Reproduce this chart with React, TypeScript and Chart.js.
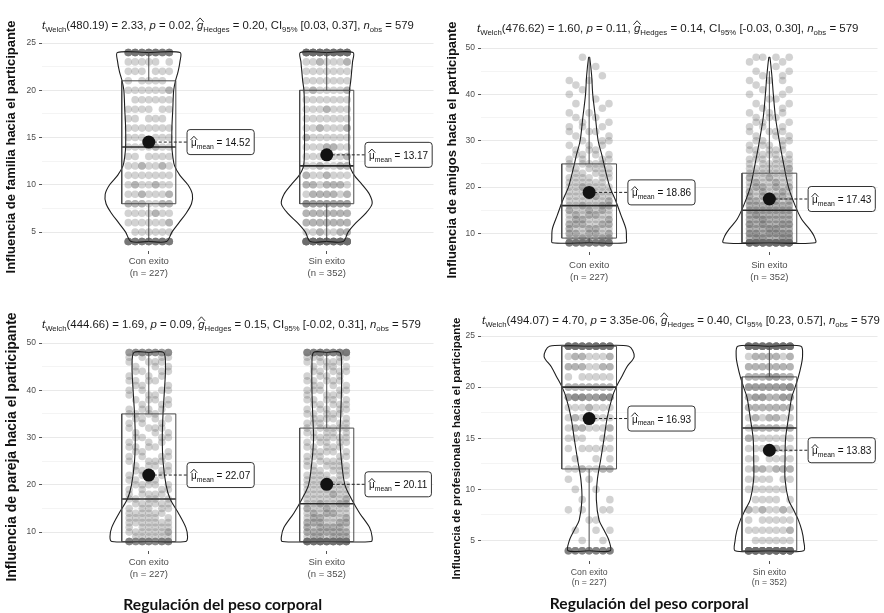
import React, { useEffect, useRef } from 'react';
import { Chart, registerables } from 'chart.js';

Chart.register(...registerables);

const FONT = '"Liberation Sans", Arial, Helvetica, sans-serif';
Chart.defaults.font.family = FONT;

const CATEGORIES = ['Con exito', 'Sin exito'];
const GROUP_N = [227, 352];
const X_TITLE = 'Regulación del peso corporal';

// ---------- Panel 1: familia ----------
const famYTitle = 'Influencia de familia hacia el participante';
const famYRange = [3, 25];
const famTicks = [5, 10, 15, 20, 25];
const famStats = ['480.19', '2.33', '0.02', '0.20', '0.03', '0.37', '579'];
const famMeans = [14.52, 13.17];
const famBoxCon = [4, 8, 14, 21, 24];
const famBoxSin = [4, 8, 12, 20, 24];
const famLevels = [4, 5, 6, 7, 8, 9, 10, 11, 12, 13, 14, 15, 16, 17, 18, 19, 20, 21, 22, 23, 24];
const famCountsCon = [45, 6, 8, 8, 12, 9, 9, 7, 9, 6, 8, 6, 7, 5, 6, 6, 8, 5, 6, 6, 45];
const famCountsSin = [80, 10, 14, 14, 22, 12, 12, 9, 10, 8, 9, 8, 9, 7, 8, 7, 9, 7, 7, 9, 71];
const famViolinConY = [4, 5, 6, 7, 8, 9, 10, 11, 12, 13, 14, 16, 18, 20, 21, 22, 23, 24];
const famViolinConW = [0.1, 0.13, 0.17, 0.21, 0.24, 0.245, 0.22, 0.175, 0.145, 0.135, 0.13, 0.13, 0.135, 0.14, 0.15, 0.165, 0.175, 0.176];
const famViolinSinY = [4, 5, 6, 7, 8, 9, 10, 11, 12, 14, 16, 18, 20, 21, 22, 23, 24];
const famViolinSinW = [0.093, 0.12, 0.165, 0.22, 0.255, 0.24, 0.2, 0.155, 0.13, 0.125, 0.125, 0.125, 0.128, 0.135, 0.14, 0.145, 0.148];

// ---------- Panel 2: amigos ----------
const amiYTitle = 'Influencia de amigos hacia el participante';
const amiYRange = [6, 50];
const amiTicks = [10, 20, 30, 40, 50];
const amiStats = ['476.62', '1.60', '0.11', '0.14', '-0.03', '0.30', '579'];
const amiMeans = [18.86, 17.43];
const amiBoxCon = [8, 9, 16, 25, 48];
const amiBoxSin = [8, 8, 15, 23, 45];
const amiLevels = [8, 9, 10, 11, 12, 13, 14, 15, 16, 17, 18, 19, 20, 21, 22, 23, 24, 25, 26, 27, 28, 29, 30, 31, 32, 33, 34, 35, 36, 37, 38, 39, 40, 41, 42, 43, 44, 45, 46, 47, 48];
const amiCountsCon = [41, 10, 12, 10, 12, 10, 10, 10, 10, 8, 8, 7, 8, 6, 6, 5, 6, 5, 4, 4, 3, 3, 3, 2, 3, 3, 2, 2, 2, 1, 2, 1, 1, 1, 1, 2, 1, 0, 1, 0, 1];
const amiCountsSin = [70, 18, 20, 16, 18, 15, 15, 14, 14, 12, 12, 10, 11, 9, 9, 7, 8, 6, 6, 5, 5, 4, 4, 3, 4, 3, 3, 3, 3, 2, 2, 2, 2, 2, 1, 3, 2, 2, 1, 2, 4];
const amiViolinConY = [8, 9, 11, 14, 17, 20, 24, 27, 30, 35, 40, 44, 48];
const amiViolinConW = [0.204, 0.207, 0.204, 0.176, 0.148, 0.115, 0.088, 0.07, 0.05, 0.035, 0.02, 0.014, 0.003];
const amiViolinSinY = [8, 9.5, 11, 13, 16, 20, 25, 30, 35, 40, 44, 48];
const amiViolinSinW = [0.255, 0.247, 0.222, 0.18, 0.143, 0.106, 0.079, 0.055, 0.034, 0.022, 0.014, 0.003];

// ---------- Panel 3: pareja ----------
const parYTitle = 'Influencia de pareja hacia el participante';
const parYRange = [6, 50];
const parTicks = [10, 20, 30, 40, 50];
const parStats = ['444.66', '1.69', '0.09', '0.15', '-0.02', '0.31', '579'];
const parMeans = [22.07, 20.11];
const parBoxCon = [8, 8, 17, 35, 48];
const parBoxSin = [8, 8, 16, 32, 48];
const parLevels = amiLevels;
const parCountsCon = [33, 6, 8, 6, 7, 6, 6, 5, 6, 5, 5, 4, 5, 4, 4, 4, 4, 4, 4, 3, 4, 3, 4, 3, 4, 3, 4, 4, 4, 3, 4, 3, 4, 3, 4, 3, 4, 3, 4, 4, 26];
const parCountsSin = [60, 12, 14, 12, 12, 10, 10, 9, 10, 8, 8, 7, 7, 6, 6, 5, 6, 5, 5, 5, 5, 5, 6, 5, 6, 5, 5, 5, 5, 5, 5, 4, 5, 4, 5, 4, 5, 4, 5, 5, 37];
const parViolinConY = [8, 9, 11, 14, 17, 20, 25, 30, 35, 40, 45, 48];
const parViolinConW = [0.208, 0.218, 0.208, 0.167, 0.12, 0.097, 0.08, 0.076, 0.08, 0.088, 0.094, 0.083];
const parViolinSinY = [8, 9, 11, 14, 17, 20, 25, 30, 35, 40, 45, 48];
const parViolinSinW = [0.25, 0.255, 0.24, 0.185, 0.139, 0.102, 0.083, 0.074, 0.079, 0.083, 0.083, 0.074];

// ---------- Panel 4: profesionales ----------
const proYTitle = 'Influencia de profesionales hacia el participante';
const proYRange = [3, 25];
const proTicks = [5, 10, 15, 20, 25];
const proStats = ['494.07', '4.70', '3.35e-06', '0.40', '0.23', '0.57', '579'];
const proMeans = [16.93, 13.83];
const proBoxCon = [4, 12, 20, 24, 24];
const proBoxSin = [4, 4, 16, 21, 24];
const proLevels = famLevels;
const proCountsCon = [35, 2, 3, 2, 4, 2, 2, 2, 10, 3, 6, 5, 10, 8, 8, 25, 14, 6, 12, 10, 58];
const proCountsSin = [85, 6, 8, 6, 10, 5, 6, 6, 12, 6, 8, 8, 12, 10, 14, 18, 22, 16, 14, 12, 68];
const proViolinConY = [4, 5, 6, 7, 9, 11, 13, 15, 17, 19, 20, 21, 22, 23, 24];
const proViolinConW = [0.117, 0.11, 0.083, 0.055, 0.04, 0.046, 0.065, 0.083, 0.1, 0.128, 0.15, 0.18, 0.21, 0.25, 0.22];
const proViolinSinY = [4, 5, 6, 7, 8, 9, 11, 13, 15, 17, 19, 20, 21, 22, 23, 24];
const proViolinSinW = [0.19, 0.19, 0.18, 0.161, 0.134, 0.106, 0.087, 0.087, 0.09, 0.106, 0.124, 0.143, 0.161, 0.175, 0.184, 0.175];

const LABEL_DX = 0.215;
const BOX_HALF = 0.152;
const SLOT_ORDER = [3, 0, 5, 2, 6, 1, 4];

type Seg = { t: string; it?: boolean; sub?: boolean; hat?: boolean };

function statSegs(s: string[]): Seg[] {
  const [df, t, p, g, lo, hi, n] = s;
  return [
    { t: 't', it: true }, { t: 'Welch', sub: true },
    { t: `(${df}) = ${t}, ` }, { t: 'p', it: true }, { t: ` = ${p}, ` },
    { t: 'g', it: true, hat: true }, { t: 'Hedges', sub: true },
    { t: ` = ${g}, CI` }, { t: '95%', sub: true },
    { t: ` [${lo}, ${hi}], ` }, { t: 'n', it: true }, { t: 'obs', sub: true },
    { t: ` = ${n}` },
  ];
}

function drawSegs(ctx: CanvasRenderingContext2D, x: number, y: number, segs: Seg[], size: number, color: string, draw = true) {
  ctx.save();
  ctx.fillStyle = color;
  ctx.strokeStyle = color;
  ctx.textBaseline = 'alphabetic';
  ctx.textAlign = 'left';
  let cx = x;
  for (const s of segs) {
    const fs = s.sub ? size * 0.68 : size;
    ctx.font = `${s.it ? 'italic ' : ''}${fs}px ${FONT}`;
    const yy = s.sub ? y + size * 0.28 : y;
    const w = ctx.measureText(s.t).width;
    if (draw) {
      ctx.fillText(s.t, cx, yy);
      if (s.hat) {
        ctx.beginPath();
        ctx.lineWidth = 0.9;
        ctx.moveTo(cx - 0.5, y - size * 0.62);
        ctx.lineTo(cx + w / 2, y - size * 0.98);
        ctx.lineTo(cx + w + 0.5, y - size * 0.62);
        ctx.stroke();
      }
    }
    cx += w;
  }
  ctx.restore();
  return cx - x;
}

function drawMeanLabel(ctx: CanvasRenderingContext2D, x: number, y: number, val: number) {
  const size = 10;
  const segs: Seg[] = [{ t: 'μ', hat: true }, { t: 'mean', sub: true }, { t: ` = ${val.toFixed(2)}` }];
  const tw = drawSegs(ctx, 0, 0, segs, size, '#111', false);
  const pad = 4, h = 25, r = 3;
  const w = tw + pad * 2;
  const top = y - h / 2;
  ctx.save();
  ctx.beginPath();
  ctx.moveTo(x + r, top);
  ctx.lineTo(x + w - r, top);
  ctx.arcTo(x + w, top, x + w, top + r, r);
  ctx.lineTo(x + w, top + h - r);
  ctx.arcTo(x + w, top + h, x + w - r, top + h, r);
  ctx.lineTo(x + r, top + h);
  ctx.arcTo(x, top + h, x, top + h - r, r);
  ctx.lineTo(x, top + r);
  ctx.arcTo(x, top, x + r, top, r);
  ctx.closePath();
  ctx.fillStyle = '#ffffff';
  ctx.fill();
  ctx.strokeStyle = '#333333';
  ctx.lineWidth = 1;
  ctx.stroke();
  ctx.restore();
  drawSegs(ctx, x + pad, y + size * 0.4, segs, size, '#111');
}

// Deterministic horizontal placement of the points of each value level
function jitter(levels: number[], counts: number[], center: number, spread: number) {
  const pts: { x: number; y: number }[] = [];
  const S = SLOT_ORDER.length;
  levels.forEach((lv, i) => {
    const m = counts[i] || 0;
    for (let k = 0; k < m; k++) {
      const slot = SLOT_ORDER[(k + i * 2) % S];
      pts.push({ x: center - spread + (2 * spread * slot) / (S - 1), y: lv });
    }
  });
  return pts;
}

function violinPath(c: number, ys: number[], ws: number[]) {
  const n = ys.length;
  const pts: { x: number; y: number }[] = [{ x: c, y: ys[0] }];
  for (let i = 0; i < n; i++) pts.push({ x: c + ws[i], y: ys[i] });
  pts.push({ x: c, y: ys[n - 1] });
  for (let i = n - 1; i >= 0; i--) pts.push({ x: c - ws[i], y: ys[i] });
  pts.push({ x: c, y: ys[0] });
  return pts;
}

function withMinors(major: number[]) {
  const out: number[] = [];
  major.forEach((v, i) => {
    if (i > 0) out.push((major[i - 1] + v) / 2);
    out.push(v);
  });
  return out;
}

const PANELS = [
  {
    key: 'fam', left: 0, top: 0, w: 440, h: 300, padTop: 43, padRight: 2, yWidth: 42, xHeight: 49, xTickPad: 2, tickSize: 9.5,
    yTitle: famYTitle, yTitleSize: 13, yTitlePad: 4, range: famYRange, ticks: famTicks,
    levels: famLevels, counts: [famCountsCon, famCountsSin],
    violins: [[famViolinConY, famViolinConW], [famViolinSinY, famViolinSinW]],
    boxes: [famBoxCon, famBoxSin], means: famMeans, stats: famStats,
    titleBase: 29, titleDx: 0, titleSize: 11.3, spread: 0.115, xTitle: false, xTitleDx: 0, xTitleY: 0,
  },
  {
    key: 'ami', left: 440, top: 0, w: 444, h: 300, padTop: 48, padRight: 4, yWidth: 41, xHeight: 48, xTickPad: 5, tickSize: 9.5,
    yTitle: amiYTitle, yTitleSize: 13, yTitlePad: 5, range: amiYRange, ticks: amiTicks,
    levels: amiLevels, counts: [amiCountsCon, amiCountsSin],
    violins: [[amiViolinConY, amiViolinConW], [amiViolinSinY, amiViolinSinW]],
    boxes: [amiBoxCon, amiBoxSin], means: amiMeans, stats: amiStats,
    titleBase: 32, titleDx: -4, titleSize: 11.5, spread: 0.11, xTitle: false, xTitleDx: 0, xTitleY: 0,
  },
  {
    key: 'par', left: 0, top: 300, w: 440, h: 313, padTop: 43, padRight: 2, yWidth: 42, xHeight: 62, xTickPad: 3, tickSize: 9.5,
    yTitle: parYTitle, yTitleSize: 14, yTitlePad: 4, range: parYRange, ticks: parTicks,
    levels: parLevels, counts: [parCountsCon, parCountsSin],
    violins: [[parViolinConY, parViolinConW], [parViolinSinY, parViolinSinW]],
    boxes: [parBoxCon, parBoxSin], means: parMeans, stats: parStats,
    titleBase: 28, titleDx: 0, titleSize: 11.4, spread: 0.11, xTitle: true, xTitleDx: -15, xTitleY: 305,
  },
  {
    key: 'pro', left: 440, top: 300, w: 444, h: 313, padTop: 36, padRight: 4, yWidth: 41, xHeight: 52, xTickPad: 3, tickSize: 8.7,
    yTitle: proYTitle, yTitleSize: 11.5, yTitlePad: 10, range: proYRange, ticks: proTicks,
    levels: proLevels, counts: [proCountsCon, proCountsSin],
    violins: [[proViolinConY, proViolinConW], [proViolinSinY, proViolinSinW]],
    boxes: [proBoxCon, proBoxSin], means: proMeans, stats: proStats,
    titleBase: 24, titleDx: 1, titleSize: 11.4, spread: 0.115, xTitle: true, xTitleDx: -30, xTitleY: 304,
  },
];

type PanelCfg = (typeof PANELS)[number];

function buildDatasets(p: PanelCfg) {
  const ds: any[] = [];
  const base = { pointRadius: 0, pointHoverRadius: 0, fill: false };
  [0, 1].forEach((g) => {
    ds.push({
      data: jitter(p.levels, p.counts[g], g + 1, p.spread),
      showLine: false,
      pointRadius: 3.8,
      pointHoverRadius: 3.8,
      pointBackgroundColor: 'rgba(105,105,105,0.3)',
      pointBorderWidth: 0,
      pointBorderColor: 'rgba(0,0,0,0)',
      order: 10,
    });
  });
  [0, 1].forEach((g) => {
    const c = g + 1;
    const [vy, vw] = p.violins[g];
    const [mn, q1, md, q3, mx] = p.boxes[g];
    const hw = BOX_HALF;
    ds.push({ ...base, data: violinPath(c, vy, vw), showLine: true, tension: 0.3, borderColor: '#1e1e1e', borderWidth: 1.1, order: 5 });
    ds.push({
      ...base,
      data: [{ x: c - hw, y: q1 }, { x: c + hw, y: q1 }, { x: c + hw, y: q3 }, { x: c - hw, y: q3 }, { x: c - hw, y: q1 }],
      showLine: true, tension: 0, borderColor: '#4a4a4a', borderWidth: 1, order: 4,
    });
    ds.push({ ...base, data: [{ x: c - hw, y: md }, { x: c + hw, y: md }], showLine: true, tension: 0, borderColor: '#2a2a2a', borderWidth: 1.6, order: 4 });
    ds.push({ ...base, data: [{ x: c, y: q3 }, { x: c, y: mx }], showLine: true, tension: 0, borderColor: '#4a4a4a', borderWidth: 1, order: 4 });
    ds.push({ ...base, data: [{ x: c, y: mn }, { x: c, y: q1 }], showLine: true, tension: 0, borderColor: '#4a4a4a', borderWidth: 1, order: 4 });
    ds.push({
      ...base,
      data: [{ x: c, y: p.means[g] }, { x: c + LABEL_DX, y: p.means[g] }],
      showLine: true, tension: 0, borderColor: '#222', borderWidth: 1, borderDash: [3, 2], order: 1,
    });
    ds.push({
      data: [{ x: c, y: p.means[g] }],
      showLine: false, pointRadius: 6.5, pointHoverRadius: 6.5,
      pointBackgroundColor: '#121212', pointBorderColor: '#121212', pointBorderWidth: 0, order: 0,
    });
  });
  return ds;
}

function Panel({ p }: { p: PanelCfg }) {
  const ref = useRef<HTMLCanvasElement>(null);
  useEffect(() => {
    if (!ref.current) return;
    const majors = p.ticks;
    const all = withMinors(majors);
    const decor = {
      id: 'decor_' + p.key,
      afterDatasetsDraw(chart: any) {
        const ctx = chart.ctx as CanvasRenderingContext2D;
        const xs = chart.scales.x;
        const ys = chart.scales.y;
        [0, 1].forEach((g) => {
          const px = xs.getPixelForValue(g + 1 + LABEL_DX);
          const py = ys.getPixelForValue(p.means[g]);
          drawMeanLabel(ctx, px, py, p.means[g]);
        });
      },
      afterDraw(chart: any) {
        const ctx = chart.ctx as CanvasRenderingContext2D;
        const ca = chart.chartArea;
        drawSegs(ctx, ca.left + p.titleDx, p.titleBase, statSegs(p.stats), p.titleSize, '#1a1a1a');
        if (p.xTitle) {
          ctx.save();
          ctx.font = `bold 15.6px Lato, "Open Sans", sans-serif`;
          ctx.fillStyle = '#111';
          ctx.textAlign = 'center';
          ctx.textBaseline = 'middle';
          ctx.fillText(X_TITLE, (ca.left + ca.right) / 2 + p.xTitleDx, p.xTitleY);
          ctx.restore();
        }
      },
    };
    const chart = new Chart(ref.current, {
      type: 'scatter',
      data: { datasets: buildDatasets(p) },
      options: {
        animation: false,
        responsive: false,
        events: [],
        layout: { padding: { top: p.padTop, right: p.padRight, left: 0, bottom: 0 } },
        plugins: { legend: { display: false }, tooltip: { enabled: false }, title: { display: false } },
        scales: {
          x: {
            type: 'linear',
            min: 0.4,
            max: 2.6,
            afterBuildTicks: (s: any) => { s.ticks = [{ value: 1 }, { value: 2 }]; },
            afterFit: (s: any) => { s.height = p.xHeight; },
            ticks: {
              autoSkip: false,
              maxRotation: 0,
              padding: p.xTickPad,
              color: '#4d4d4d',
              font: { size: p.tickSize, lineHeight: 1.2 },
              callback: (v: any) => [CATEGORIES[Math.round(v) - 1], `(n = ${GROUP_N[Math.round(v) - 1]})`],
            },
            grid: { drawOnChartArea: false, drawTicks: true, tickLength: 3, tickColor: '#555', color: '#555' },
            border: { display: false },
          },
          y: {
            type: 'linear',
            min: p.range[0],
            max: p.range[1],
            afterBuildTicks: (s: any) => { s.ticks = all.map((v) => ({ value: v })); },
            afterFit: (s: any) => { s.width = p.yWidth; },
            ticks: {
              autoSkip: false,
              padding: 3,
              color: '#4d4d4d',
              font: { size: 8.5 },
              callback: (v: any) => (majors.includes(v) ? String(v) : ''),
            },
            grid: {
              drawTicks: true,
              tickLength: 3,
              color: (ctx: any) => (majors.includes(ctx.tick?.value) ? '#e9e9e9' : '#f4f4f4'),
              tickColor: (ctx: any) => (majors.includes(ctx.tick?.value) ? '#555' : 'rgba(0,0,0,0)'),
              lineWidth: 1,
            },
            border: { display: false },
            title: {
              display: true,
              text: p.yTitle,
              color: '#111',
              font: { size: p.yTitleSize, weight: 'bold' },
              padding: { top: p.yTitlePad, bottom: 0 },
            },
          },
        },
      } as any,
      plugins: [decor],
    });
    return () => chart.destroy();
  }, [p]);
  return (
    <canvas
      ref={ref}
      width={p.w}
      height={p.h}
      style={{ position: 'absolute', left: p.left, top: p.top, width: p.w, height: p.h }}
    />
  );
}

export default function App() {
  return (
    <div style={{ position: 'absolute', left: 0, top: 0, width: 884, height: 613, background: '#ffffff', overflow: 'hidden' }}>
      {PANELS.map((p) => (
        <Panel key={p.key} p={p} />
      ))}
    </div>
  );
}
